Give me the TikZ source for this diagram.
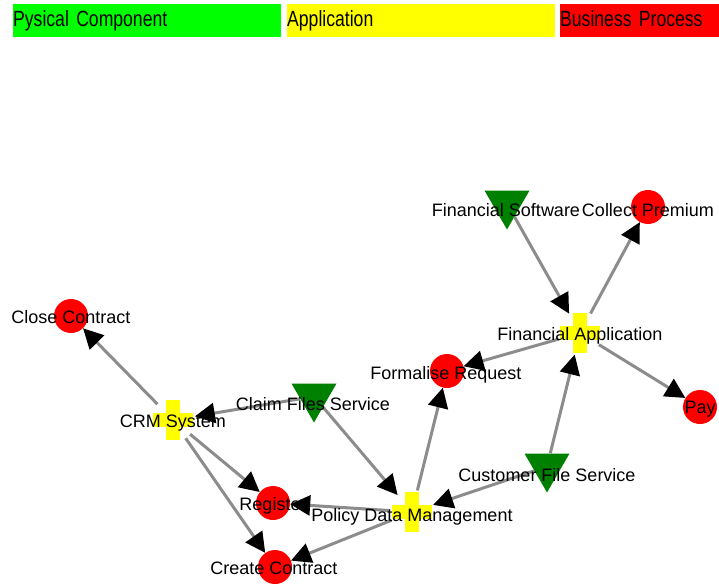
\documentclass[tikz,border=0pt]{standalone}
\usepackage{fontspec}
\setmainfont{Liberation Sans}
\newfontfamily\legendfont[FakeStretch=0.8]{Liberation Sans}
\usetikzlibrary{shapes.geometric,arrows.meta}

\definecolor{physgreen}{RGB}{0,128,0}
\definecolor{keygreen}{RGB}{0,255,0}
\definecolor{appyellow}{RGB}{255,255,0}
\definecolor{procred}{RGB}{255,0,0}
\definecolor{linkgray}{RGB}{140,140,140}

\tikzset{
  proc/.style={circle,fill=procred,minimum size=34pt,inner sep=0pt},
  phys/.style={regular polygon,regular polygon sides=3,shape border rotate=180,
    fill=physgreen,minimum size=52pt,inner sep=0pt,yshift=6.5pt},
  app/.style={circle,minimum size=44pt,inner sep=0pt,path picture={
      \fill[appyellow] ([shift={(-7pt,-20pt)}]path picture bounding box.center) rectangle ([shift={(7pt,20pt)}]path picture bounding box.center);
      \fill[appyellow] ([shift={(-20pt,-7pt)}]path picture bounding box.center) rectangle ([shift={(20pt,7pt)}]path picture bounding box.center);}},
  lbl/.style={anchor=base,inner sep=0pt,font=\fontsize{18}{18}\selectfont},
  link/.style={draw=linkgray,line width=3pt,-{Triangle[length=20pt,width=20pt,color=black]}},
  key/.style={anchor=north west,inner sep=0pt,minimum height=33pt,text height=16pt,text depth=4pt,
    align=left,font=\legendfont\fontsize{22}{22}\selectfont}
}

\begin{document}
\begin{tikzpicture}[x=1pt,y=-1pt]
      \useasboundingbox (0,0) rectangle (719,583);
      % legend
      \node[key,fill=keygreen,text width=268pt] (keyPhys) at (13,4) {Pysical Component};
      \node[key,fill=appyellow,text width=268pt] (keyApp) at (287,4) {Application};
      \node[key,fill=procred,text width=159pt] (keyProc) at (560,4) {Business Process};
      % shapes
      \node[proc] (close) at (71,316) {};
      \node[app] (crm) at (173,420) {};
      \node[phys] (claim) at (314,403) {};
      \node[proc] (register) at (273,503) {};
      \node[proc] (create) at (275,567) {};
      \node[app] (policy) at (412,512) {};
      \node[proc] (formalise) at (447,371) {};
      \node[app] (finapp) at (580,333) {};
      \node[phys] (finsoft) at (507,210) {};
      \node[proc] (collect) at (648,207) {};
      \node[proc] (pay) at (700,407) {};
      \node[phys] (custfile) at (547,473) {};
      % links
      \draw[link] (crm) -- (close);
      \draw[link] (claim) -- (crm);
      \draw[link] (crm) -- (register);
      \draw[link] (crm) -- (create);
      \draw[link] (claim) -- (policy);
      \draw[link] (policy) -- (register);
      \draw[link] (policy) -- (create);
      \draw[link] (policy) -- (formalise);
      \draw[link] (custfile) -- (policy);
      \draw[link] (custfile) -- (finapp);
      \draw[link] (finsoft) -- (finapp);
      \draw[link] (finapp) -- (collect);
      \draw[link] (finapp) -- (formalise);
      \draw[link] (finapp) -- (pay);
      % labels
      \node[lbl] (closeL) at (71,323) {Close Contract};
      \node[lbl] (crmL) at (173,427) {CRM System};
      \node[lbl] (claimL) at (313,410) {Claim Files Service};
      \node[lbl] (registerL) at (273,510) {Register};
      \node[lbl] (createL) at (274,574) {Create Contract};
      \node[lbl] (policyL) at (412,521) {Policy Data Management};
      \node[lbl] (formaliseL) at (446,379) {Formalise Request};
      \node[lbl] (finappL) at (580,340) {Financial Application};
      \node[lbl] (finsoftL) at (506,216) {Financial Software};
      \node[lbl] (collectL) at (648,216) {Collect Premium};
      \node[lbl] (payL) at (700,413) {Pay};
      \node[lbl] (custfileL) at (547,481) {Customer File Service};
\end{tikzpicture}
\end{document}
